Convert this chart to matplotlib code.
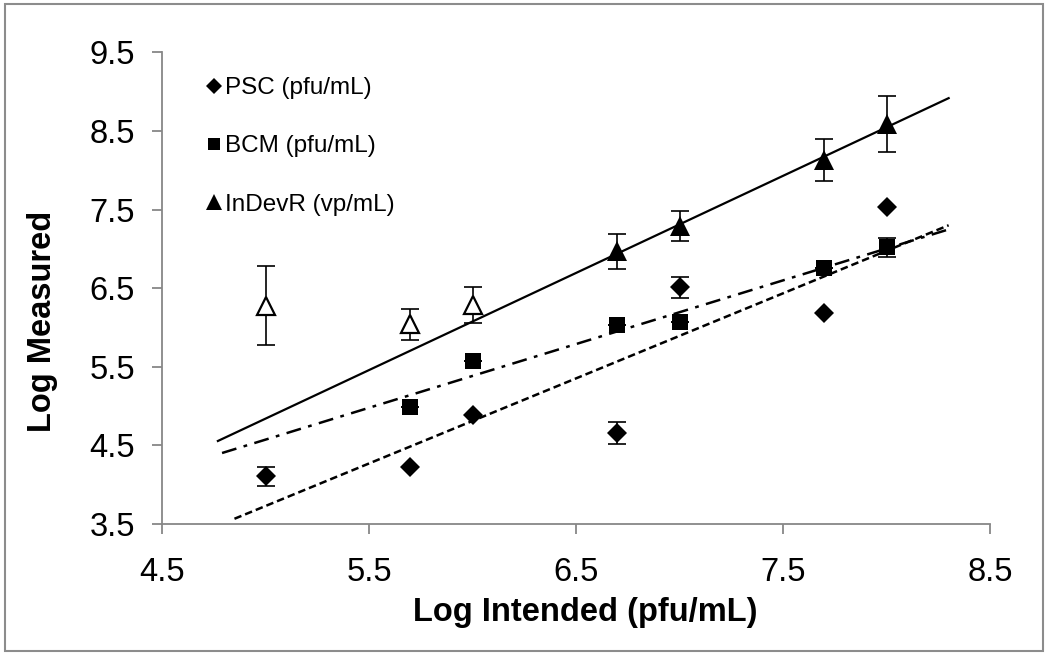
import numpy as np
import matplotlib.pyplot as plt
from matplotlib.lines import Line2D
from matplotlib.patches import Rectangle

plt.rcParams['font.family'] = ['Liberation Sans', 'DejaVu Sans']

# PSC (pfu/mL)
psc_x = [5.0, 5.7, 6.0, 6.7, 7.0, 7.7, 8.0]
psc_y = [4.11, 4.23, 4.89, 4.66, 6.51, 6.18, 7.54]
psc_err = [0.12, 0.0, 0.0, 0.14, 0.13, 0.0, 0.0]

# BCM (pfu/mL)
bcm_x = [5.7, 6.0, 6.7, 7.0, 7.7, 8.0]
bcm_y = [4.99, 5.57, 6.03, 6.07, 6.76, 7.02]
bcm_err = [0.0, 0.0, 0.0, 0.0, 0.0, 0.12]

# InDevR (vp/mL), filled points used for the fit
ind_x = [6.7, 7.0, 7.7, 8.0]
ind_y = [6.97, 7.29, 8.13, 8.59]
ind_err = [0.22, 0.19, 0.27, 0.36]

# InDevR points below range (open markers)
ind_open_x = [5.0, 5.7, 6.0]
ind_open_y = [6.28, 6.04, 6.29]
ind_open_err = [0.5, 0.2, 0.23]

# trendline extents (forecast backward/forward)
ind_fit_range = [4.77, 8.3]
bcm_fit_range = [4.79, 8.3]
psc_fit_range = [4.85, 8.3]

xticks = [4.5, 5.5, 6.5, 7.5, 8.5]
yticks = [3.5, 4.5, 5.5, 6.5, 7.5, 8.5, 9.5]

fig = plt.figure(figsize=(10.5, 6.56), dpi=100)
ax = fig.add_axes([0.1543, 0.2012, 0.7886, 0.7188])

err_kw = dict(ls='none', ecolor='black', elinewidth=1.2, capsize=6.5, capthick=1.2, zorder=2)

# error bars
ax.errorbar(psc_x, psc_y, yerr=psc_err, fmt='none', **err_kw)
ax.errorbar(bcm_x, bcm_y, yerr=bcm_err, fmt='none', **err_kw)
ax.errorbar(ind_x, ind_y, yerr=ind_err, fmt='none', **err_kw)
ax.errorbar(ind_open_x, ind_open_y, yerr=ind_open_err, fmt='none', **err_kw)

# trend lines
def trend(x, y, rng, **kw):
    k, b = np.polyfit(x, y, 1)
    xx = np.array(rng)
    ax.plot(xx, k * xx + b, color='black', zorder=1.5, **kw)

trend(ind_x, ind_y, ind_fit_range, lw=1.6, ls='-')
trend(bcm_x, bcm_y, bcm_fit_range, lw=1.8, dashes=(6, 3, 1.5, 3))
trend(psc_x, psc_y, psc_fit_range, lw=1.8, dashes=(3, 1.6))

# markers
ax.plot(psc_x, psc_y, ls='none', marker='D', ms=10.5, color='black', mew=0, zorder=3)
ax.plot(bcm_x, bcm_y, ls='none', marker='s', ms=11.5, color='black', mew=0, zorder=3)
ax.plot(ind_x, ind_y, ls='none', marker='^', ms=15, color='black', mew=0, zorder=3)
ax.plot(ind_open_x, ind_open_y, ls='none', marker='^', ms=13, mfc='white', mec='black',
        mew=1.6, zorder=3)

ax.set_xlim(4.5, 8.5)
ax.set_ylim(3.5, 9.5)
ax.set_xticks(xticks)
ax.set_yticks(yticks)
ax.set_xticklabels([f'{v:.1f}' for v in xticks])
ax.set_yticklabels([f'{v:.1f}' for v in yticks])

for s in ['top', 'right']:
    ax.spines[s].set_visible(False)
for s in ['left', 'bottom']:
    ax.spines[s].set_color('#878787')
    ax.spines[s].set_linewidth(1.3)
ax.tick_params(axis='both', color='#878787', width=1.3, length=7.5, labelsize=23.5,
               labelcolor='black')
ax.tick_params(axis='x', pad=16)
ax.tick_params(axis='y', pad=12)

fig.text(585 / 1050, 1 - 612 / 656, 'Log Intended (pfu/mL)', fontsize=23.5,
         fontweight='bold', ha='center', va='center')
fig.text(43 / 1050, 1 - 321 / 656, 'Log Measured', fontsize=23.5, fontweight='bold',
         rotation=90, ha='center', va='center')

handles = [
    Line2D([], [], ls='none', marker='D', ms=8, color='black', mew=0),
    Line2D([], [], ls='none', marker='s', ms=9, color='black', mew=0),
    Line2D([], [], ls='none', marker='^', ms=11, color='black', mew=0),
]
labels = ['PSC (pfu/mL)', 'BCM (pfu/mL)', 'InDevR (vp/mL)']
ax.legend(handles, labels, loc='upper left', bbox_to_anchor=(0.054, 0.948),
          frameon=False, fontsize=17.5, handlelength=0.6, handletextpad=0.15,
          labelspacing=1.5, borderpad=0, borderaxespad=0)

# outer chart border
fig.patches.append(Rectangle((5 / 1050, 5 / 656), 1038 / 1050, 647 / 656,
                             transform=fig.transFigure, fill=False,
                             edgecolor='#8c8c8c', lw=1.5))

fig.savefig('out.png', dpi=100)
